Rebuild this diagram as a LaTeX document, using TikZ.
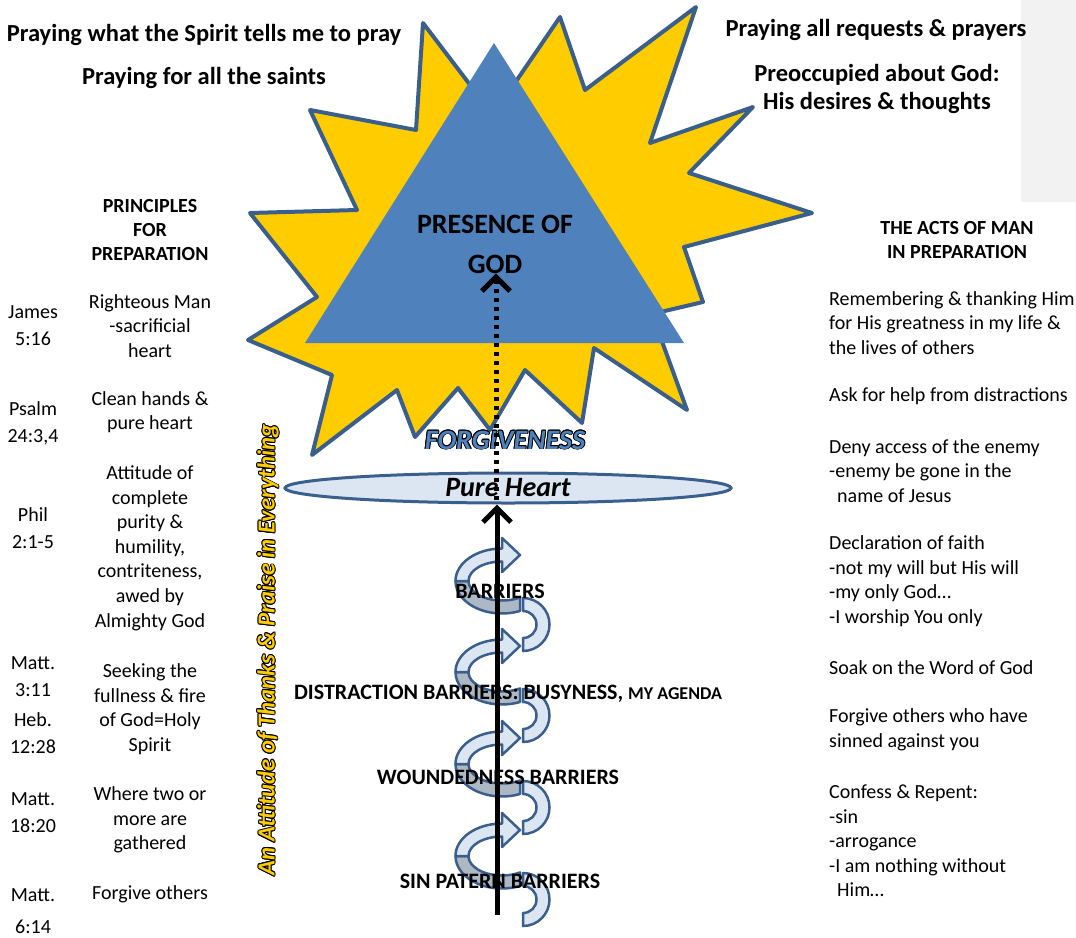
\documentclass[tikz,border=0pt]{standalone}
\usepackage{fontspec}
\setmainfont{Carlito}
\usetikzlibrary{arrows.meta,calc,shapes.geometric}
\definecolor{sungold}{HTML}{FFCC00}
\definecolor{edgeblue}{HTML}{3B5F8C}
\definecolor{godblue}{HTML}{4F81BD}
\definecolor{paleblue}{HTML}{DCE6F2}
\definecolor{ribbongrey}{HTML}{AEB8C4}
\definecolor{panelgrey}{HTML}{F2F2F2}
\newcommand{\outlined}[4]{%
    \foreach \dir in {0,30,...,330}
        \node[#3, text=black] at ($(#2)+(\dir:0.9)$) {#4};
    \node[#3] (#1) at (#2) {#4};
}
\begin{document}
\begin{tikzpicture}
    [
        x=1pt, y=-1pt,
        toptext/.style={font=\fontsize{24.5}{28}\selectfont\bfseries, align=center, inner sep=0pt},
        heading/.style={font=\fontsize{20}{24}\selectfont\bfseries, align=center, inner sep=0pt},
        reftext/.style={font=\fontsize{20}{27}\selectfont, align=center, inner sep=0pt},
        principle/.style={font=\fontsize{20}{24.6}\selectfont, align=center, inner sep=0pt},
        actitem/.style={font=\fontsize{20}{24.6}\selectfont, align=left, anchor=west, inner sep=0pt},
        barrier/.style={font=\fontsize{22}{24}\selectfont\bfseries, inner sep=0pt},
        godtext/.style={font=\fontsize{28}{40}\selectfont\bfseries, align=center, inner sep=0pt},
        forgivetext/.style={font=\fontsize{28}{30}\selectfont\bfseries\itshape, text=godblue, inner sep=0pt},
        thankstext/.style={font=\fontsize{24.6}{26}\selectfont\bfseries\itshape, text=sungold, rotate=90, inner sep=0pt},
        pureheart/.style={ellipse, draw=edgeblue, line width=3pt, fill=paleblue, minimum width=446pt, minimum height=30pt, inner sep=0pt, font=\fontsize{28}{30}\selectfont\bfseries\itshape},
        ribbon/.style={draw=edgeblue, line width=2.5pt, line join=round},
        axis/.style={line width=5pt, -{Straight Barb[length=14pt, width=28pt]}},
        dotarrow/.style={line width=5pt, dash pattern=on 4.5pt off 4.5pt, -{Straight Barb[length=14pt, width=28pt]}}
    ]
    \useasboundingbox (0,0) rectangle (1076,937);
    \fill[panelgrey] (1021,0) rectangle (1076,202);

    \filldraw[draw=edgeblue, line width=4pt, line join=round, fill=sungold]
        (423,23) -- (493,115) -- (560,17) -- (585,90) -- (696,7) -- (650,143) -- (753,107)
        -- (689,173) -- (812,213) -- (684,247) -- (703,302) -- (652,314) -- (687,410) -- (594,348)
        -- (582,423) -- (525,370) -- (490,430) -- (458,388) -- (415,437) -- (397,390) -- (312,455)
        -- (332,375) -- (248,340) -- (317,297) -- (250,213) -- (357,210) -- (310,110) -- (416,130) -- cycle;
    \fill[godblue] (305,343) -- (494,43) -- (684,343) -- cycle;
    \node[godtext] (god) at (495,244) {PRESENCE OF\\GOD};

    \foreach \yy in {555,646,738,830}
    {
        \begin{scope}[shift={(502,\yy+26)}]
            \filldraw[ribbon, fill=ribbongrey] (180:46.5 and 32.5) arc[start angle=180, end angle=67.2, x radius=46.5, y radius=32.5]
                -- (57.5:33.5 and 19.5) arc[start angle=57.5, end angle=180, x radius=33.5, y radius=19.5] -- cycle;
            \filldraw[ribbon, fill=paleblue] (180:46.5 and 32.5) arc[start angle=180, end angle=270, x radius=46.5, y radius=32.5]
                -- (0,-43) -- (18,-26) -- (0,-9) -- (0,-19.5)
                arc[start angle=270, end angle=180, x radius=33.5, y radius=19.5] -- cycle;
            \filldraw[ribbon, fill=paleblue] (21,17) arc[start angle=-90, end angle=90, radius=26.5]
                -- (21,57) arc[start angle=90, end angle=-90, radius=13.5] -- cycle;
        \end{scope}
    }

    \node[pureheart] (pure) at (508,488) {Pure Heart};
    \outlined{forgiveness}{505,440}{forgivetext}{FORGIVENESS}
    \outlined{thanks}{268,650}{thankstext}{An Attitude of Thanks \& Praise in Everything}

    \coordinate (axisbase) at (497,915);
    \coordinate (dotbase) at (496,500);
    \draw[axis] (axisbase) -- (axisbase |- pure.south);
    \draw[dotarrow] (dotbase) -- (dotbase |- god.south);

    \node[barrier] (barriers) at (500,591) {BARRIERS};
    \node[barrier] (distraction) at (508,694) {DISTRACTION BARRIERS: BUSYNESS, {\fontsize{18}{20}\selectfont MY AGENDA}};
    \node[barrier] (wounded) at (498,777) {WOUNDEDNESS BARRIERS};
    \node[barrier] (sinpattern) at (500,881) {SIN PATERN BARRIERS};

    \node[toptext] (spirit) at (204,35) {Praying what the Spirit tells me to pray};
    \node[toptext] (saints) at (204,78) {Praying for all the saints};
    \node[toptext] (requests) at (876,30) {Praying all requests \& prayers};
    \node[toptext] (preoccupied) at (877,89) {Preoccupied about God:\\His desires \& thoughts};

    \node[heading] (principles) at (150,230) {PRINCIPLES\\FOR\\PREPARATION};
    \node[heading] (acts) at (957,240) {THE ACTS OF MAN\\IN PREPARATION};

    \node[reftext] (james) at (33,326) {James\\5:16};
    \node[reftext] (psalm) at (33,423) {Psalm\\24:3,4};
    \node[reftext] (phil) at (33,528) {Phil\\2:1-5};
    \node[reftext] (matt3) at (33,677) {Matt.\\3:11};
    \node[reftext] (heb) at (33,733) {Heb.\\12:28};
    \node[reftext] (matt18) at (33,813) {Matt.\\18:20};
    \node[reftext] (matt6) at (33,911) {Matt.\\[5pt]6:14};

    \node[principle] (righteous) at (150,326) {Righteous Man\\-sacrificial\\heart};
    \node[principle] (clean) at (150,412) {Clean hands \&\\pure heart};
    \node[principle] (attitude) at (150,548) {Attitude of\\complete\\purity \&\\humility,\\contriteness,\\awed by\\Almighty God};
    \node[principle] (seeking) at (150,709) {Seeking the\\fullness \& fire\\of God=Holy\\Spirit};
    \node[principle] (where) at (150,820) {Where two or\\more are\\gathered};
    \node[principle] (forgive) at (150,894) {Forgive others};

    \node[actitem] (remember) at (829,323) {Remembering \& thanking Him\\for His greatness in my life \&\\the lives of others};
    \node[actitem] (askhelp) at (829,396) {Ask for help from distractions};
    \node[actitem] (deny) at (829,471) {Deny access of the enemy\\-enemy be gone in the\\\hspace*{8pt}name of Jesus};
    \node[actitem] (declare) at (829,581) {Declaration of faith\\-not my will but His will\\-my only God…\\-I worship You only};
    \node[actitem] (soak) at (829,668) {Soak on the Word of God};
    \node[actitem] (forgivesin) at (829,730) {Forgive others who have\\sinned against you};
    \node[actitem] (confess) at (829,841) {Confess \& Repent:\\-sin\\-arrogance\\-I am nothing without\\\hspace*{8pt}Him…};
\end{tikzpicture}
\end{document}
